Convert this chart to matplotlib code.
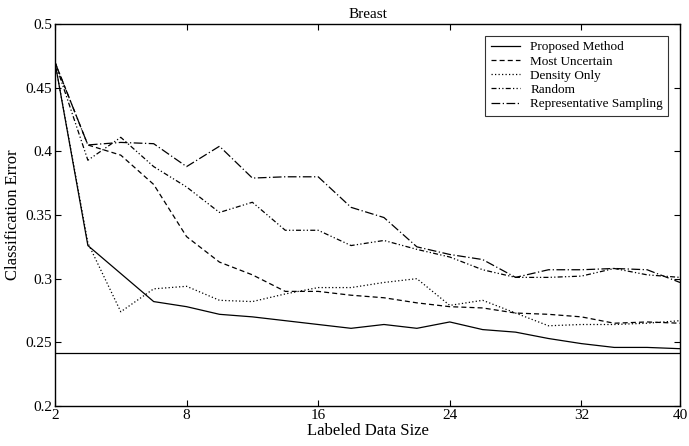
import numpy as np
import matplotlib
matplotlib.use("Agg")
import matplotlib.pyplot as plt

plt.rcParams['font.family'] = ['Liberation Serif', 'DejaVu Serif']

# labeled data sizes (20 rounds); plotted at their index position
sizes = list(range(2, 42, 2))
tick_labels = ['2', '8', '16', '24', '32', '40']

proposed = [0.470, 0.326, 0.304, 0.282, 0.278, 0.272, 0.270, 0.267, 0.264, 0.261,
            0.264, 0.261, 0.266, 0.260, 0.258, 0.253, 0.249, 0.246, 0.246, 0.245]
most_uncertain = [0.470, 0.405, 0.397, 0.374, 0.333, 0.313, 0.303, 0.290, 0.290, 0.287,
                  0.285, 0.281, 0.278, 0.277, 0.273, 0.272, 0.270, 0.265, 0.266, 0.265]
density_only = [0.470, 0.328, 0.274, 0.292, 0.294, 0.283, 0.282, 0.288, 0.293, 0.293,
                0.297, 0.300, 0.279, 0.283, 0.273, 0.263, 0.264, 0.264, 0.265, 0.267]
random_sel = [0.470, 0.393, 0.411, 0.388, 0.372, 0.352, 0.360, 0.338, 0.338, 0.326,
              0.330, 0.323, 0.317, 0.307, 0.301, 0.301, 0.302, 0.308, 0.303, 0.301]
rep_sampling = [0.470, 0.405, 0.407, 0.406, 0.388, 0.404, 0.379, 0.380, 0.380, 0.356,
                0.348, 0.325, 0.319, 0.315, 0.301, 0.307, 0.307, 0.308, 0.307, 0.297]
baseline = 0.242

pos = np.array(sizes) - 2

fig = plt.figure(figsize=(6.89, 4.46), dpi=100)
ax = fig.add_axes([0.0798, 0.0897, 0.9072, 0.8565])

lw = 0.9
ax.plot(pos, proposed, color='black', lw=lw, linestyle='-', label='Proposed Method')
ax.plot(pos, most_uncertain, color='black', lw=lw, linestyle=(0, (4, 2.5)), label='Most Uncertain')
ax.plot(pos, density_only, color='black', lw=lw, linestyle=(0, (1, 1.8)), label='Density Only')
ax.plot(pos, random_sel, color='black', lw=lw, linestyle=(0, (4, 1.8, 1, 1.8, 1, 1.8)), label='Random')
ax.plot(pos, rep_sampling, color='black', lw=lw, linestyle=(0, (7, 2, 1, 2)), label='Representative Sampling')
ax.axhline(baseline, color='black', lw=lw)

ax.set_xlim(0, 38)
ax.set_ylim(0.2, 0.5)
ax.set_xticks([0, 8, 16, 24, 32, 38])
ax.set_xticklabels(tick_labels)
ax.set_yticks(np.arange(0.2, 0.501, 0.05))
ax.set_yticklabels(['0.2', '0.25', '0.3', '0.35', '0.4', '0.45', '0.5'])
ax.tick_params(direction='in', top=True, right=True, labelsize=11, length=4, width=0.8, pad=2)
for s in ax.spines.values():
    s.set_linewidth(1.0)

ax.set_title('Breast', fontsize=11, pad=4)
ax.set_xlabel('Labeled Data Size', fontsize=12, labelpad=1)
ax.set_ylabel('Classification Error', fontsize=12, labelpad=3)

leg = ax.legend(loc='upper right', fontsize=9.5, frameon=True, fancybox=False,
                edgecolor='black', handlelength=2.2, borderpad=0.4, labelspacing=0.15,
                borderaxespad=0.9)
leg.get_frame().set_linewidth(0.8)

fig.savefig('out.png', dpi=100)
